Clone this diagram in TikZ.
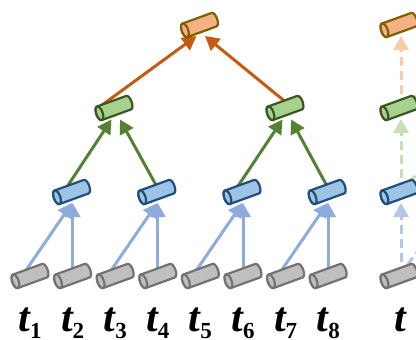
\documentclass[tikz,border=0pt]{standalone}
\usepackage{fontspec}
\setmainfont{Liberation Serif}
\usetikzlibrary{arrows.meta,calc}

\definecolor{leafFill}{HTML}{BFBFBF}
\definecolor{leafLine}{HTML}{767171}
\definecolor{blueFill}{HTML}{9DC3E6}
\definecolor{blueLine}{HTML}{1F4E79}
\definecolor{greenFill}{HTML}{A9D18E}
\definecolor{greenLine}{HTML}{385723}
\definecolor{orangeFill}{HTML}{F4B183}
\definecolor{orangeLine}{HTML}{7F6000}
\definecolor{blueArrow}{HTML}{8FAADC}
\definecolor{greenArrow}{HTML}{548235}
\definecolor{orangeArrow}{HTML}{C55A11}
\definecolor{blueDash}{HTML}{B4C7E7}
\definecolor{greenDash}{HTML}{C5E0B4}
\definecolor{orangeDash}{HTML}{F8CBAD}

\tikzset{
  % tilted cylinder, open end cap on the left
  pics/cyl/.style n args={2}{code={
    \begin{scope}[rotate=20, line width=2.2pt, line join=round]
      \path[draw=#1, fill=#2]
        (-15.5,7.2) -- (15.5,7.2)
        arc[start angle=90, end angle=-90, x radius=3.2, y radius=7.2]
        -- (-15.5,-7.2)
        arc[start angle=270, end angle=90, x radius=3.2, y radius=7.2] -- cycle;
      \path[draw=#1, fill=#2] (-15.5,0) ellipse[x radius=3.2, y radius=7.2];
    \end{scope}
  }},
  link/.style={line width=3pt, -{Triangle[length=14pt,width=15pt]}},
  blink/.style={link, color=blueArrow},
  glink/.style={link, color=greenArrow},
  olink/.style={link, color=orangeArrow},
  dlink/.style={link, dash pattern=on 9pt off 5pt},
  tlabel/.style={anchor=base, inner sep=0pt},
}
\newcommand{\tletter}{{\fontsize{42}{42}\selectfont\bfseries\itshape t}}
\newcommand{\tsub}[1]{\tletter\raisebox{-7pt}[0pt][0pt]{\fontsize{23}{23}\selectfont\bfseries #1}}

\begin{document}
\begin{tikzpicture}[x=1pt,y=1pt]
\useasboundingbox (0,0) rectangle (416,-340);
\clip (0,0) rectangle (416,-340);

% cylinder centres
\foreach \i in {1,...,8} {
  \coordinate (l\i) at ({30+42.6*(\i-1)},-276);
}
\coordinate (b1) at (71.6,-192);
\coordinate (b2) at (156.8,-192);
\coordinate (b3) at (242,-192);
\coordinate (b4) at (327.2,-192);
\coordinate (g1) at (114,-108);
\coordinate (g2) at (285,-108);
\coordinate (o1) at (199.5,-25);
\coordinate (lR) at (399,-276);
\coordinate (bR) at (399,-192);
\coordinate (gR) at (399,-108);
\coordinate (oR) at (399,-25);
% nodes of the next column, out of view
\coordinate (bX) at (440,-222);
\coordinate (gX) at (450,-142);
\coordinate (oX) at (470,-60);

% leaves to first level
\foreach \p/\a/\b in {b1/l1/l2, b2/l3/l4, b3/l5/l6, b4/l7/l8} {
  \draw[blink] ($(\a)+(-8,0)$) -- ($(\p)+(0.5,-11)$);
  \draw[blink] (\b) -- ([yshift=-11pt]\b |- \p);
}
% first level to second level
\draw[glink] ($(b1)+(-8,0)$) -- ($(g1)+(-2.5,-11.5)$);
\draw[glink] ($(b2)+(3,0)$) -- ($(g1)+(6,-11.5)$);
\draw[glink] ($(b3)+(-8,0)$) -- ($(g2)+(-2.5,-11.5)$);
\draw[glink] ($(b4)+(3,0)$) -- ($(g2)+(6,-11.5)$);
% second level to root
\draw[olink] ($(g1)+(-16,0)$) -- ($(o1)+(-3,-11)$);
\draw[olink] ($(g2)+(8,0)$) -- ($(o1)+(5.5,-11)$);

% dashed links of the next column
\draw[dlink, color=blueDash] ([xshift=2pt]lR) -- ([xshift=2pt,yshift=-11pt]lR |- bR);
\draw[dlink, color=blueDash, -] (lR) -- (bX);
\draw[dlink, color=greenDash] ([xshift=2pt]bR) -- ([xshift=2pt,yshift=-11pt]bR |- gR);
\draw[dlink, color=greenDash, -] (bR) -- (gX);
\draw[dlink, color=orangeDash] ([xshift=2pt]gR) -- ([xshift=2pt,yshift=-11pt]gR |- oR);
\draw[dlink, color=orangeDash, -] (gR) -- (oX);

% cylinders
\foreach \n in {l1,l2,l3,l4,l5,l6,l7,l8,lR} \pic at (\n) {cyl={leafLine}{leafFill}};
\foreach \n in {b1,b2,b3,b4,bR} \pic at (\n) {cyl={blueLine}{blueFill}};
\foreach \n in {g1,g2,gR} \pic at (\n) {cyl={greenLine}{greenFill}};
\foreach \n in {o1,oR} \pic at (\n) {cyl={orangeLine}{orangeFill}};

% labels
\foreach \i in {1,...,8} {
  \node[tlabel] (t\i) at ({30+42.6*(\i-1)},-331) {\tsub{\i}};
}
\node[tlabel] (tR) at (400,-331) {\tletter};
\end{tikzpicture}
\end{document}
